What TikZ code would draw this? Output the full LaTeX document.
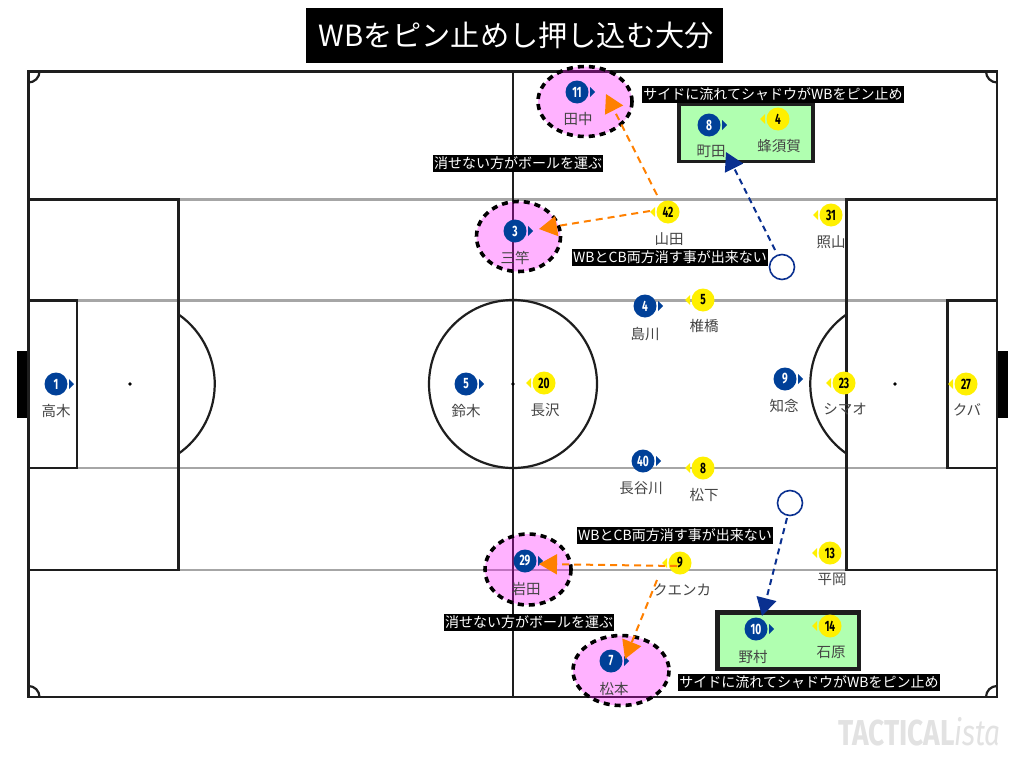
\documentclass[tikz,border=0pt]{standalone}
\usepackage{fontspec}
\usepackage{graphicx}
\setmainfont{Noto Sans CJK JP}
\newfontfamily\numfont{Fira Sans}[BoldFont={Fira Sans Bold}]
\usetikzlibrary{arrows.meta}
\definecolor{bluec}{HTML}{004098}
\definecolor{yellowc}{HTML}{FFF000}
\definecolor{navyc}{HTML}{0A3090}
\definecolor{orangec}{HTML}{FF8000}
\definecolor{greenc}{HTML}{B0FFB0}
\definecolor{linec}{HTML}{1E1E1E}
\definecolor{grayl}{HTML}{A6A6A6}
\definecolor{labelc}{HTML}{444444}
\definecolor{magentac}{HTML}{FF00FF}
\definecolor{wmc}{HTML}{E2E2E2}
\tikzset{
  pitch/.style={draw=linec,line width=2.2pt},
  grayline/.style={draw=grayl,line width=2.2pt},
  bluep/.style={circle,fill=bluec,text=white,inner sep=0pt,minimum size=23pt},
  yellowp/.style={circle,fill=yellowc,text=black,inner sep=0pt,minimum size=23pt},
  plabel/.style={text=labelc,font=\fontsize{14.5}{14.5}\selectfont,inner sep=0pt,yshift=-0.7pt},
  blackbox/.style={fill=black,text=white,font=\fontsize{14}{14}\selectfont,inner xsep=1pt,inner ysep=0pt,minimum height=17pt},
  hilite/.style={draw=black,line width=3.6pt,dash pattern=on 6pt off 5pt,fill=magentac,fill opacity=0.3,draw opacity=1},
  greenbox/.style={fill=greenc,draw=linec},
  orangearrow/.style={draw=orangec,line width=2pt,dash pattern=on 7pt off 5pt,-{Triangle[length=18pt,width=20pt,fill=orangec]}},
  navyarrow/.style={draw=navyc,line width=2pt,dash pattern=on 6pt off 4.5pt,-{Triangle[length=18pt,width=20pt,fill=navyc]}},
  ghost/.style={circle,draw=navyc,line width=1.6pt,fill=white,inner sep=0pt},
}
\newcommand{\numtxt}[1]{\scalebox{0.68}[1]{\numfont\bfseries\fontsize{15}{15}\selectfont #1}}
\newcommand{\bplayer}[7]{%
  \fill[bluec] (#2+13,#3-5) -- (#2+18,#3) -- (#2+13,#3+5) -- cycle;
  \node[bluep] (#1) at (#2,#3) {\numtxt{#4}};
  \node[plabel] (#1l) at (#6,#7) {#5};}
\newcommand{\yplayer}[7]{%
  \fill[yellowc] (#2-13,#3-5) -- (#2-18,#3) -- (#2-13,#3+5) -- cycle;
  \node[yellowp] (#1) at (#2,#3) {\numtxt{#4}};
  \node[plabel] (#1l) at (#6,#7) {#5};}
\begin{document}
\begin{tikzpicture}[x=1pt,y=-1pt]
\useasboundingbox (0,0) rectangle (1024,768);
\fill[white] (0,0) rectangle (1024,768);
% gray lines
\draw[grayline] (178,199.5) -- (847,199.5);
\draw[grayline] (77,300.5) -- (947,300.5);
\draw[grayline] (77,468) -- (947,468);
\draw[grayline] (178,570) -- (847,570);
% goals
\fill[black] (17,351) rectangle (28,418);
\fill[black] (997,351) rectangle (1008,418);
% pitch
\draw[pitch] (28.5,71.5) rectangle (997,697);
\draw[pitch] (513,71.5) -- (513,697);
\draw[pitch] (513,384) circle[radius=84];
\draw[pitch] (28.5,199.5) -- (178.5,199.5) -- (178.5,570) -- (28.5,570);
\draw[pitch] (997,199.5) -- (846.5,199.5) -- (846.5,570) -- (997,570);
\draw[pitch] (28.5,300.5) -- (77,300.5) -- (77,468) -- (28.5,468);
\draw[pitch] (997,300.5) -- (947.5,300.5) -- (947.5,468) -- (997,468);
\draw[pitch] (178.5,314.4) arc[start angle=-55,end angle=55,radius=85];
\draw[pitch] (846.5,314.4) arc[start angle=235,end angle=125,radius=85];
\draw[pitch] (39.5,71.5) arc[start angle=0,end angle=90,radius=11];
\draw[pitch] (986,71.5) arc[start angle=180,end angle=90,radius=11];
\draw[pitch] (39.5,697) arc[start angle=0,end angle=-90,radius=11];
\draw[pitch] (986,697) arc[start angle=180,end angle=270,radius=11];
\fill[black] (130,384) circle[radius=1.8];
\fill[black] (895,384) circle[radius=1.8];
\fill[black] (513,384) circle[radius=1.8];
% green boxes
\path[greenbox,line width=3.4pt] (679,104) rectangle (813,161.5);
\path[greenbox,line width=4.4pt] (717.5,612.5) rectangle (859,669);
% highlights
\path[hilite] (585,101.5) ellipse[x radius=47,y radius=35];
\path[hilite] (518.5,236.5) ellipse[x radius=42,y radius=35];
\path[hilite] (528,569.5) ellipse[x radius=43,y radius=35.5];
\path[hilite] (621,670.5) ellipse[x radius=48,y radius=35];
% players
\bplayer{b1}{56}{384}{1}{高木}{56}{410}
\bplayer{b5}{466}{384}{5}{鈴木}{466}{410}
\bplayer{b29}{525}{561}{29}{岩田}{526}{588}
\bplayer{b7}{611}{661}{7}{松本}{614}{688}
\bplayer{b3}{515}{231}{3}{三竿}{515}{257}
\bplayer{b11}{577}{92}{11}{田中}{578}{118}
\bplayer{b8}{709}{125}{8}{町田}{711}{151}
\bplayer{b10}{756}{629}{10}{野村}{753}{656}
\bplayer{b4}{645}{306}{4}{島川}{645}{333}
\bplayer{b9}{785}{379}{9}{知念}{784}{405}
\bplayer{b40}{643}{461}{40}{長谷川}{641}{487}
\yplayer{y42}{668}{212}{42}{山田}{669}{238}
\yplayer{y31}{831}{215}{31}{照山}{831}{241}
\yplayer{y4}{778}{119}{4}{蜂須賀}{779}{145}
\yplayer{y5}{703}{300}{5}{椎橋}{704}{325}
\yplayer{y23}{844}{383}{23}{シマオ}{845}{408}
\yplayer{y27}{966}{384}{27}{クバ}{967}{409}
\yplayer{y20}{544}{383}{20}{長沢}{545}{409}
\yplayer{y8}{703}{468}{8}{松下}{704}{494}
\yplayer{y9}{680}{563}{9}{クエンカ}{682}{589}
\yplayer{y13}{830}{553}{13}{平岡}{832}{579}
\yplayer{y14}{830}{626}{14}{石原}{831}{652}
% ghost positions
\node[ghost,minimum size=25pt] (g1) at (782,267) {};
\node[ghost,minimum size=25pt] (g2) at (790,503) {};
% connector ends
\coordinate (a1s) at (657,195);
\coordinate (a1e) at (606,94);
\coordinate (a2s) at (650,211);
\coordinate (a2e) at (539,229);
\coordinate (a3s) at (677,566);
\coordinate (a3e) at (539,564);
\coordinate (a4s) at (657,580);
\coordinate (a4e) at (625,659);
\coordinate (a5s) at (775,250);
\coordinate (a5e) at (726,152);
\coordinate (a6s) at (787,518);
\coordinate (a6e) at (762,616);
\draw[orangearrow] (a1s) -- (a1e);
\draw[orangearrow] (a2s) -- (a2e);
\draw[orangearrow] (a3s) -- (a3e);
\draw[orangearrow] (a4s) -- (a4e);
\draw[navyarrow] (a5s) -- (a5e);
\draw[navyarrow] (a6s) -- (a6e);
% captions
\node[blackbox] (t1) at (773,94) {サイドに流れてシャドウがWBをピン止め};
\node[blackbox] (t2) at (809,682) {サイドに流れてシャドウがWBをピン止め};
\node[blackbox] (t3) at (518,163) {消せない方がボールを運ぶ};
\node[blackbox] (t4) at (529,622) {消せない方がボールを運ぶ};
\node[blackbox] (t5) at (670,257) {WBとCB両方消す事が出来ない};
\node[blackbox] (t6) at (675,535) {WBとCB両方消す事が出来ない};
% title
\node[fill=black,text=white,font=\fontsize{29.2}{29.2}\selectfont,minimum width=417pt,minimum height=55pt,inner sep=0pt] (title) at (514.5,35.5) {\hspace{3pt}WBをピン止めし押し込む大分};
% watermark
\node[text=wmc,inner sep=0pt,anchor=west] (wm) at (838,732) {\scalebox{0.78}[1]{\numfont\bfseries\fontsize{36}{36}\selectfont TACTICAL\mdseries\itshape ista}};
\end{tikzpicture}
\end{document}
